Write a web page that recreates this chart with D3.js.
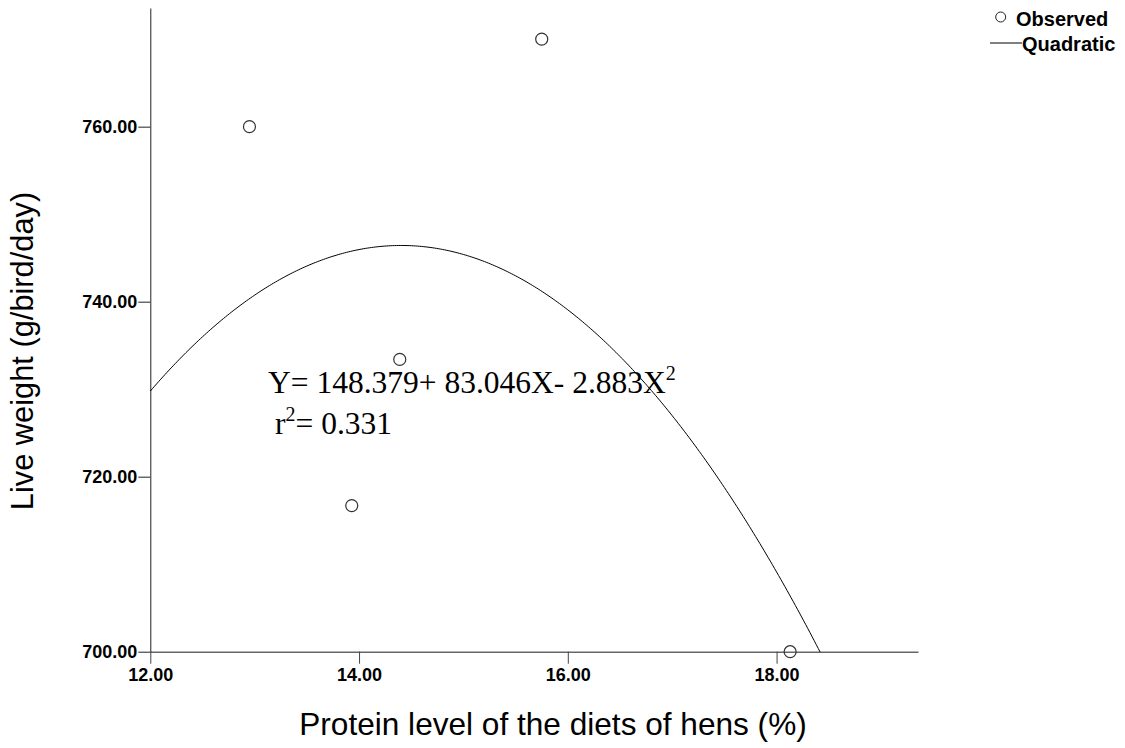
<!DOCTYPE html>
<html lang="en">
    <head>
        <meta charset="utf-8">
        <title>Live weight vs protein level</title>
        <script type="text/javascript" src="https://cdn.jsdelivr.net/npm/d3@7"></script>
        <style>
            body { margin: 0; background: #fff; }
        </style>
    </head>
    <body>
        <script type="text/javascript">
            // observed points
            var protein = [12.95, 13.93, 14.39, 15.75, 18.13];
            var liveWeight = [760.0, 716.7, 733.4, 770.0, 700.0];
            // quadratic fit printed on the chart: b0, b1, b2
            var coef = [148.379, 83.046, -2.883];
            var xTicks = [12, 14, 16, 18];
            var yTicks = [700, 720, 740, 760];

            var w = 1125;
            var h = 748;
            var tickFont = "Liberation Sans, Arial, sans-serif";

            var svg = d3.select("body")
                .append("svg")
                .attr("width", w)
                .attr("height", h);

            var xScale = d3.scaleLinear()
                .domain([12, 19.355])
                .range([150.3, 918]);
            var yScale = d3.scaleLinear()
                .domain([700, 773.56])
                .range([651.7, 8]);

            svg.append("clipPath")
                .attr("id", "plotArea")
                .append("rect")
                .attr("x", 150)
                .attr("y", 0)
                .attr("width", 770)
                .attr("height", 652);

            // x axis
            var xAxis = d3.axisBottom(xScale)
                .tickValues(xTicks)
                .tickSize(12)
                .tickSizeOuter(0)
                .tickFormat(d3.format(".2f"));
            var gx = svg.append("g")
                .attr("transform", "translate(0," + yScale(700) + ")")
                .call(xAxis);
            gx.select(".domain").attr("stroke", "#666").attr("stroke-width", 1.5);
            gx.selectAll(".tick line").attr("stroke", "#444");
            gx.selectAll("text")
                .attr("font-family", tickFont)
                .attr("font-size", "18px")
                .attr("font-weight", "bold")
                .attr("fill", "#000")
                .attr("y", 17);

            // y axis
            var yAxis = d3.axisLeft(yScale)
                .tickValues(yTicks)
                .tickSize(12)
                .tickSizeOuter(0)
                .tickFormat(d3.format(".2f"));
            var gy = svg.append("g")
                .attr("transform", "translate(" + xScale(12) + ",0)")
                .call(yAxis);
            gy.select(".domain").attr("stroke", "#222");
            gy.selectAll(".tick line").attr("stroke", "#222");
            gy.selectAll("text")
                .attr("font-family", tickFont)
                .attr("font-size", "18px")
                .attr("font-weight", "bold")
                .attr("fill", "#000")
                .attr("x", -13);

            // fitted curve
            var curveX = d3.range(12, 19.35, 0.02);
            var fit = curveX.map(function(x) {
                return [x, coef[0] + coef[1] * x + coef[2] * x * x];
            });
            var line = d3.line()
                .x(function(d) { return xScale(d[0]); })
                .y(function(d) { return yScale(d[1]); });
            svg.append("path")
                .datum(fit)
                .attr("clip-path", "url(#plotArea)")
                .attr("d", line)
                .attr("fill", "none")
                .attr("stroke", "#000")
                .attr("stroke-width", 1);

            // observed points
            svg.selectAll("circle.obs")
                .data(protein)
                .enter()
                .append("circle")
                .attr("class", "obs")
                .attr("cx", function(d) { return xScale(d); })
                .attr("cy", function(d, i) { return yScale(liveWeight[i]); })
                .attr("r", 6)
                .attr("fill", "none")
                .attr("stroke", "#333")
                .attr("stroke-width", 1.2);

            // equation
            var eq = svg.append("text")
                .attr("font-family", "Liberation Serif, Times New Roman, serif")
                .attr("font-size", "31.5px")
                .attr("fill", "#000");
            eq.append("tspan").attr("x", 268).attr("y", 393).text("Y= 148.379+ 83.046X- 2.883X");
            eq.append("tspan").attr("dy", -13).attr("font-size", "20px").text("2");
            var r2 = svg.append("text")
                .attr("font-family", "Liberation Serif, Times New Roman, serif")
                .attr("font-size", "31.5px")
                .attr("fill", "#000");
            r2.append("tspan").attr("x", 275).attr("y", 434).text("r");
            r2.append("tspan").attr("dy", -13).attr("font-size", "20px").text("2");
            r2.append("tspan").attr("dy", 13).text("= 0.331");

            // axis titles
            svg.append("text")
                .text("Protein level of the diets of hens (%)")
                .attr("font-family", "Liberation Sans, Arial, sans-serif")
                .attr("font-size", "31.6px")
                .attr("text-anchor", "middle")
                .attr("x", 553)
                .attr("y", 735);
            svg.append("text")
                .text("Live weight (g/bird/day)")
                .attr("font-family", "Liberation Sans, Arial, sans-serif")
                .attr("font-size", "30.8px")
                .attr("text-anchor", "middle")
                .attr("transform", "translate(33,351) rotate(-90)");

            // legend
            svg.append("circle")
                .attr("cx", 1000.7)
                .attr("cy", 17)
                .attr("r", 5)
                .attr("fill", "none")
                .attr("stroke", "#222");
            svg.append("line")
                .attr("x1", 990)
                .attr("x2", 1022)
                .attr("y1", 43)
                .attr("y2", 43)
                .attr("stroke", "#000");
            svg.append("text")
                .text("Observed")
                .attr("font-family", "Liberation Sans, Arial, sans-serif")
                .attr("font-size", "20px")
                .attr("font-weight", "bold")
                .attr("x", 1016)
                .attr("y", 26);
            svg.append("text")
                .text("Quadratic")
                .attr("font-family", "Liberation Sans, Arial, sans-serif")
                .attr("font-size", "20px")
                .attr("font-weight", "bold")
                .attr("x", 1022)
                .attr("y", 51);
        </script>
    </body>
</html>
